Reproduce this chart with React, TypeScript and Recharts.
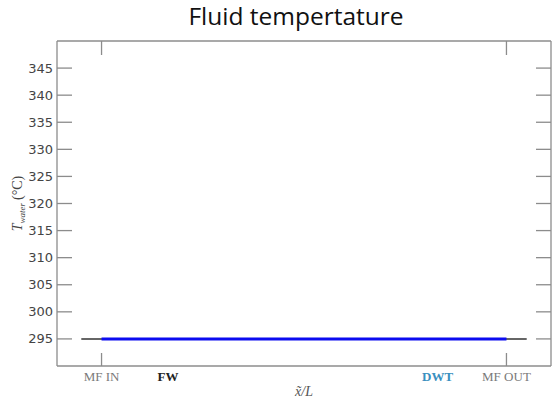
/**
 * Fluid temperature along the channel: flat water temperature profile
 * between the MF inlet and outlet markers.
 */
import { LineChart, Line, XAxis, YAxis, Label } from "recharts";

// positions along x̃/L (0 = MF IN, 1 = MF OUT)
const outerX = [-0.05, 1.05];
const outerT = [295, 295];
const innerX = [0, 1];
const innerT = [295, 295];

const tempTicks = [295, 300, 305, 310, 315, 320, 325, 330, 335, 340, 345];
const markerTicks = [0, 0.164, 0.83, 1];
const markerLabels = ["MF IN", "FW", "DWT", "MF OUT"];
const frameTicks = [0, 1];

const outerData = outerX.map((x, i) => ({ x, t: outerT[i] }));
const innerData = innerX.map((x, i) => ({ x, t: innerT[i] }));

const FRAME = "#8c8c8c";
const SERIF = "'Liberation Serif', 'DejaVu Serif', serif";

const labelStyle: Record<string, { fill: string; weight: number }> = {
  "MF IN": { fill: "#7a7a7a", weight: 400 },
  "MF OUT": { fill: "#7a7a7a", weight: 400 },
  FW: { fill: "#222", weight: 700 },
  DWT: { fill: "#3a90c0", weight: 700 },
};

const LeftTick = (props: any) => {
  const { x, y, payload } = props;
  return (
    <g>
      <line x1={x} x2={x + 15} y1={y} y2={y} stroke={FRAME} strokeWidth={1.3} />
      <text
        x={x - 4}
        y={y}
        textAnchor="end"
        dominantBaseline="central"
        fill="#444"
        fontSize={13}
        fontFamily="'DejaVu Sans', sans-serif"
      >
        {payload.value}
      </text>
    </g>
  );
};

const RightTick = (props: any) => {
  const { x, y } = props;
  return <line x1={x} x2={x - 15} y1={y} y2={y} stroke={FRAME} strokeWidth={1.3} />;
};

const TopTick = (props: any) => {
  const { x, y } = props;
  return <line x1={x} x2={x} y1={y} y2={y + 14} stroke={FRAME} strokeWidth={1.3} />;
};

const BottomTick = (props: any) => {
  const { x, y, index } = props;
  const label = markerLabels[index];
  const st = labelStyle[label];
  const isFrame = frameTicks.includes(markerTicks[index]);
  return (
    <g>
      {isFrame && <line x1={x} x2={x} y1={y} y2={y - 13} stroke={FRAME} strokeWidth={1.3} />}
      <text
        x={x}
        y={y + 10}
        textAnchor="middle"
        dominantBaseline="central"
        fill={st.fill}
        fontWeight={st.weight}
        fontSize={13}
        fontFamily={SERIF}
      >
        {label}
      </text>
    </g>
  );
};

const YTitle = (props: any) => {
  const vb = props.viewBox;
  const cx = vb.x + 17;
  const cy = vb.y + vb.height / 2;
  return (
    <text
      x={cx}
      y={cy}
      transform={`rotate(-90 ${cx} ${cy})`}
      textAnchor="middle"
      dominantBaseline="central"
      fill="#444"
      fontFamily={SERIF}
      fontSize={14}
    >
      <tspan fontStyle="italic">T</tspan>
      <tspan fontStyle="italic" fontSize={9} baselineShift="sub">
        water
      </tspan>
      <tspan dx={3}>(°C)</tspan>
    </text>
  );
};

const XTitle = (props: any) => {
  const vb = props.viewBox;
  return (
    <text
      x={vb.x + vb.width / 2}
      y={vb.y + 25}
      textAnchor="middle"
      dominantBaseline="central"
      fill="#555"
      fontFamily={SERIF}
      fontStyle="italic"
      fontSize={14}
    >
      {"x\u0303/L"}
    </text>
  );
};

export default function App() {
  return (
    <div style={{ position: "absolute", left: 0, top: 0, width: 552, height: 406, background: "#fff" }}>
      <div
        style={{
          position: "absolute",
          left: 40,
          width: 512,
          top: 0,
          textAlign: "center",
          fontFamily: "'Open Sans', sans-serif",
          fontSize: 24.5,
          lineHeight: "32px",
          color: "#111",
        }}
      >
        Fluid tempertature
      </div>
      <LineChart width={552} height={406} margin={{ top: 40, right: 0, bottom: 0, left: 0 }}>
        <XAxis
          xAxisId="b"
          dataKey="x"
          type="number"
          domain={[-0.11, 1.11]}
          ticks={markerTicks}
          interval={0}
          height={40}
          tickSize={0}
          tickMargin={0}
          tickLine={false}
          tick={<BottomTick />}
          axisLine={{ stroke: FRAME, strokeWidth: 1.3 }}
          allowDataOverflow
        >
          <Label content={<XTitle />} />
        </XAxis>
        <XAxis
          xAxisId="t"
          orientation="top"
          dataKey="x"
          type="number"
          domain={[-0.11, 1.11]}
          ticks={frameTicks}
          interval={0}
          height={1}
          tickSize={0}
          tickMargin={0}
          tickLine={false}
          tick={<TopTick />}
          axisLine={{ stroke: FRAME, strokeWidth: 1.3 }}
          allowDataOverflow
        />
        <YAxis
          yAxisId="l"
          type="number"
          domain={[290, 350]}
          ticks={tempTicks}
          interval={0}
          width={57}
          tickSize={0}
          tickMargin={0}
          tickLine={false}
          tick={<LeftTick />}
          axisLine={{ stroke: FRAME, strokeWidth: 1.3 }}
          allowDataOverflow
        >
          <Label content={<YTitle />} />
        </YAxis>
        <YAxis
          yAxisId="r"
          orientation="right"
          type="number"
          domain={[290, 350]}
          ticks={tempTicks}
          interval={0}
          width={1}
          tickSize={0}
          tickMargin={0}
          tickLine={false}
          tick={<RightTick />}
          axisLine={{ stroke: FRAME, strokeWidth: 1.3 }}
          allowDataOverflow
        />
        <Line
          xAxisId="t"
          yAxisId="r"
          data={outerData}
          dataKey="t"
          stroke="none"
          dot={false}
          legendType="none"
          isAnimationActive={false}
        />
        <Line
          xAxisId="b"
          yAxisId="l"
          data={outerData}
          dataKey="t"
          stroke="#333"
          strokeWidth={1.5}
          dot={false}
          isAnimationActive={false}
        />
        <Line
          xAxisId="b"
          yAxisId="l"
          data={innerData}
          dataKey="t"
          stroke="#0c0cf0"
          strokeWidth={3}
          dot={false}
          isAnimationActive={false}
        />
      </LineChart>
    </div>
  );
}
